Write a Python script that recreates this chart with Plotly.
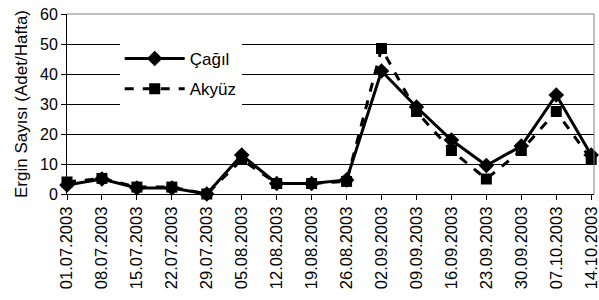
import plotly.graph_objects as go

dates = ["01.07.2003", "08.07.2003", "15.07.2003", "22.07.2003", "29.07.2003",
         "05.08.2003", "12.08.2003", "19.08.2003", "26.08.2003", "02.09.2003",
         "09.09.2003", "16.09.2003", "23.09.2003", "30.09.2003", "07.10.2003",
         "14.10.2003"]
cagil = [3, 5, 2, 2, 0, 13, 3.5, 3.5, 4.7, 41, 29, 18, 9.5, 16, 33, 13]
akyuz = [4, 5.2, 2.3, 2.3, 0, 11.5, 3.5, 3.5, 4.2, 48.5, 27.5, 14.5, 5, 14.5, 27.5, 11.5]
y_ticks = [0, 10, 20, 30, 40, 50, 60]

FONT = "Liberation Sans, Arial, sans-serif"

fig = go.Figure()
fig.add_trace(go.Scatter(
    x=list(range(len(dates))), y=cagil, name="Çağıl", mode="lines+markers",
    line=dict(color="black", width=3),
    marker=dict(symbol="diamond", size=12, color="black"),
    cliponaxis=False, legendgroup="a"))
fig.add_trace(go.Scatter(
    x=list(range(len(dates))), y=akyuz, name="Akyüz", mode="lines+markers",
    line=dict(color="black", width=3, dash="dash"),
    marker=dict(symbol="square", size=11, color="black"),
    cliponaxis=False, legendgroup="b"))

fig.update_layout(
    width=599, height=300,
    margin=dict(l=67, r=5, t=14, b=106, pad=0),
    paper_bgcolor="white", plot_bgcolor="white",
    font=dict(family=FONT, color="black", size=16),
    showlegend=True,
    legend=dict(x=0.1, y=0.85, xanchor="left", yanchor="top",
                bgcolor="white", borderwidth=0, itemwidth=60,
                traceorder="grouped", tracegroupgap=5,
                font=dict(size=17, family=FONT)),
    xaxis=dict(
        tickmode="array", tickvals=list(range(len(dates))), ticktext=dates,
        tickangle=-90, range=[0, 15.08], showgrid=False,
        showline=True, linecolor="black", linewidth=1,
        ticks="outside", ticklen=5, tickcolor="black",
        ticklabeloverflow="allow",
        tickfont=dict(size=16.5, family=FONT), zeroline=False, automargin=False),
    yaxis=dict(
        range=[0, 60], tickvals=y_ticks, showgrid=True, gridcolor="black",
        gridwidth=1, showline=True, linecolor="black", linewidth=1,
        ticks="outside", ticklen=5, tickcolor="black",
        tickfont=dict(size=16, family=FONT), zeroline=False, automargin=False,
        title=dict(text="Ergin Sayısı (Adet/Hafta)", font=dict(size=17, family=FONT),
                   standoff=8)),
)

# grey frame on top and right of the plot area
fig.add_shape(type="line", xref="paper", yref="paper", x0=0, x1=1, y0=1, y1=1,
              line=dict(color="#808080", width=1), layer="above")
fig.add_shape(type="line", xref="paper", yref="paper", x0=1, x1=1, y0=0, y1=1,
              line=dict(color="#808080", width=1), layer="above")

fig.write_html("out.html", config={"displayModeBar": False},
               post_script="document.body.style.margin='0px';document.body.style.padding='0px';")
